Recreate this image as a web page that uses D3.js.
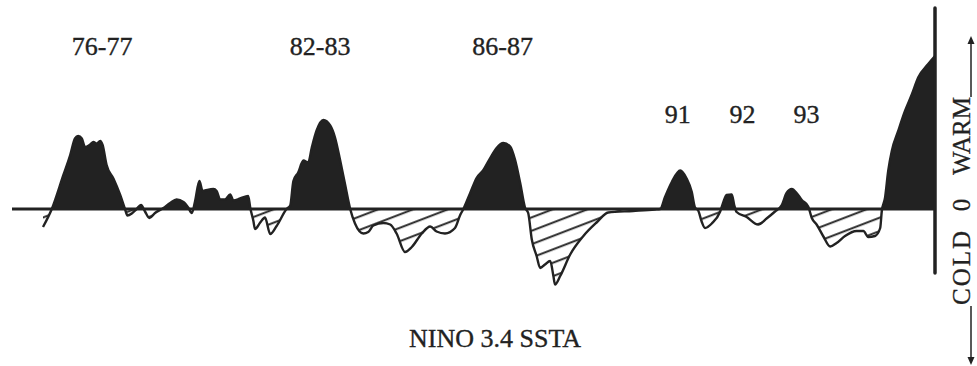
<!DOCTYPE html>
<html><head><meta charset="utf-8">
<script src="https://cdn.jsdelivr.net/npm/d3@7"></script>
<style>html,body{margin:0;padding:0;background:#fff;}svg{display:block;}
svg text{font-family:"Liberation Serif","Times New Roman",Times,serif;}</style>
</head><body>
<script>
// ---- data ----
const years = [1976.00,1976.22,1976.51,1976.68,1976.80,1976.88,1976.97,1977.05,1977.18,1977.26,1977.34,1977.43,1977.49,1977.59,1977.76,1977.93,1978.05,1978.11,1978.22,1978.34,1978.45,1978.55,1978.66,1978.80,1979.01,1979.18,1979.34,1979.51,1979.63,1979.72,1979.80,1979.91,1979.99,1980.05,1980.26,1980.34,1980.43,1980.55,1980.68,1980.76,1980.93,1981.13,1981.18,1981.26,1981.30,1981.43,1981.55,1981.68,1981.84,1982.09,1982.18,1982.26,1982.38,1982.51,1982.63,1982.72,1982.84,1983.01,1983.18,1983.30,1983.43,1983.55,1983.68,1983.80,1984.01,1984.13,1984.26,1984.51,1984.68,1984.84,1985.05,1985.22,1985.47,1985.68,1985.84,1986.05,1986.30,1986.43,1986.51,1986.68,1986.84,1987.01,1987.18,1987.34,1987.51,1987.68,1987.80,1987.93,1988.05,1988.13,1988.22,1988.34,1988.43,1988.55,1988.68,1988.76,1988.80,1988.93,1989.18,1989.51,1989.84,1990.13,1990.75,1991.30,1991.43,1991.55,1991.72,1991.93,1992.09,1992.22,1992.30,1992.38,1992.47,1992.55,1992.72,1992.93,1993.01,1993.09,1993.22,1993.28,1993.34,1993.59,1993.88,1994.09,1994.30,1994.47,1994.59,1994.72,1994.84,1994.97,1995.13,1995.22,1995.34,1995.51,1995.68,1995.84,1996.05,1996.34,1996.51,1996.63,1996.80,1996.93,1996.97,1997.05,1997.13,1997.22,1997.38,1997.55,1997.72,1997.88,1998.13,1998.30];
const ssta = [-0.36,0.00,0.68,1.08,1.41,1.46,1.41,1.24,1.29,1.34,1.31,1.36,1.28,0.88,0.61,0.28,0.00,-0.13,-0.09,0.00,0.08,-0.05,-0.18,-0.08,0.02,0.12,0.19,0.14,0.03,-0.08,0.15,0.56,0.36,0.37,0.40,0.36,0.19,0.19,0.29,0.17,0.21,0.26,0.03,-0.24,-0.40,-0.27,-0.17,-0.50,-0.34,0.00,0.07,0.56,0.73,0.97,0.93,1.23,1.57,1.78,1.67,1.43,0.97,0.50,0.00,-0.29,-0.49,-0.46,-0.33,-0.28,-0.31,-0.49,-0.86,-0.76,-0.49,-0.35,-0.45,-0.49,-0.38,-0.12,0.00,0.32,0.62,0.78,1.02,1.22,1.32,1.25,0.99,0.52,0.03,-0.08,-0.61,-0.94,-1.18,-1.11,-1.04,-1.34,-1.51,-1.34,-0.91,-0.54,-0.27,-0.07,-0.04,-0.01,0.00,0.24,0.54,0.77,0.61,0.34,0.03,-0.03,-0.26,-0.38,-0.29,-0.05,0.14,0.28,0.29,0.08,-0.06,-0.16,-0.31,-0.19,-0.05,0.08,0.32,0.40,0.32,0.18,0.05,-0.18,-0.31,-0.55,-0.75,-0.68,-0.54,-0.44,-0.44,-0.56,-0.54,-0.38,-0.04,0.22,0.76,1.16,1.56,1.96,2.29,2.63,2.90,3.06];
const eventLabels = ["76-77","82-83","86-87","91","92","93"];
const eventYears  = [1977.48,1982.93,1987.49,1991.87,1993.49,1995.09];
const eventLevels = [3.08,3.08,3.08,1.72,1.72,1.72];
const title = "NINO 3.4 SSTA";
const axisWords = ["WARM","0","COLD"];
const xDomain = [1975.225, 1998.3];
const yDomain = [-1.28, 4.02];

// ---- drawing ----
const W = 977, H = 366;
const svg = d3.select("body").append("svg").attr("width", W).attr("height", H);
const x = d3.scaleLinear().domain(xDomain).range([12, 935]);
const y = d3.scaleLinear().domain(yDomain).range([273, 8]);
const data = years.map((t, i) => ({t, v: ssta[i]}));
const ink = "#222";

const defs = svg.append("defs");
const pat = defs.append("pattern").attr("id", "hatch")
  .attr("patternUnits", "userSpaceOnUse").attr("width", 40).attr("height", 12.5)
  .attr("patternTransform", "rotate(-21)");
pat.append("rect").attr("width", 40).attr("height", 12.5).attr("fill", "#fff");
pat.append("line").attr("x1", 0).attr("x2", 40).attr("y1", 6).attr("y2", 6)
  .attr("stroke", ink).attr("stroke-width", 1.9);

defs.append("clipPath").attr("id", "above").append("rect")
  .attr("x", 0).attr("y", 0).attr("width", W).attr("height", y(0));
defs.append("clipPath").attr("id", "below").append("rect")
  .attr("x", 0).attr("y", y(0)).attr("width", W).attr("height", H - y(0));

const curve = d3.curveMonotoneX;
const area = d3.area().x(d => x(d.t)).y0(y(0)).y1(d => y(d.v)).curve(curve);
const line = d3.line().x(d => x(d.t)).y(d => y(d.v)).curve(curve);

svg.append("path").datum(data).attr("d", area).attr("fill", ink).attr("clip-path", "url(#above)");
svg.append("path").datum(data).attr("d", area).attr("fill", "url(#hatch)").attr("clip-path", "url(#below)");
svg.append("path").datum(data).attr("d", line).attr("fill", "none")
  .attr("stroke", ink).attr("stroke-width", 2.4).attr("stroke-linejoin", "round");

// zero line
svg.append("line").attr("x1", x(xDomain[0])).attr("x2", x(xDomain[1]))
  .attr("y1", y(0)).attr("y2", y(0)).attr("stroke", ink).attr("stroke-width", 3.2);
// vertical axis
svg.append("line").attr("x1", x(xDomain[1])).attr("x2", x(xDomain[1]))
  .attr("y1", y(yDomain[1])).attr("y2", y(yDomain[0]))
  .attr("stroke", ink).attr("stroke-width", 3.5).attr("stroke-linecap", "round");

svg.selectAll("text.ev").data(eventLabels).join("text").attr("class", "ev")
  .attr("x", (d, i) => x(eventYears[i])).attr("y", (d, i) => y(eventLevels[i]))
  .attr("text-anchor", "middle").attr("font-size", 26)
  .attr("fill", ink).attr("stroke", ink).attr("stroke-width", 0.35).text(d => d);

svg.append("text").attr("x", 495).attr("y", 347).attr("text-anchor", "middle")
  .attr("font-size", 26).attr("fill", ink).attr("stroke", ink).attr("stroke-width", 0.35).text(title);

// rotated side label: COLD 0 WARM with arrows
const side = svg.append("g").attr("transform", "translate(970,0) rotate(-90)");
const wordY = [136, 205, 267];
const spacing = [0, 0, 2];
axisWords.forEach((w, i) => {
  side.append("text").attr("x", -wordY[i]).attr("y", 0).attr("text-anchor", "middle")
    .attr("font-size", 25).attr("letter-spacing", spacing[i])
    .attr("fill", ink).attr("stroke", ink).attr("stroke-width", 0.3).text(w);
});
// arrows
side.append("line").attr("x1", -97).attr("x2", -40).attr("y1", 1).attr("y2", 1)
  .attr("stroke", ink).attr("stroke-width", 1.5);
side.append("path").attr("d", "M-36,1 L-44,-2.5 L-44,4.5 Z").attr("fill", ink);
side.append("line").attr("x1", -306).attr("x2", -360).attr("y1", 1).attr("y2", 1)
  .attr("stroke", ink).attr("stroke-width", 1.5);
side.append("path").attr("d", "M-365,1 L-357,-2.5 L-357,4.5 Z").attr("fill", ink);
</script>
</body></html>
